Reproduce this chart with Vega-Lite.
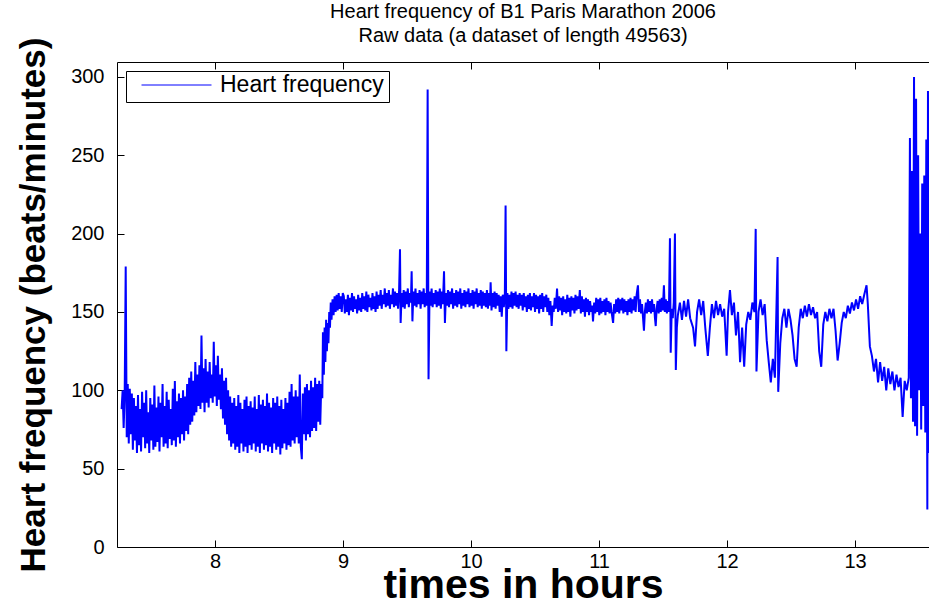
{
"$schema": "https://vega.github.io/schema/vega-lite/v6.json",
"width": 812, "height": 485,
"autosize": {"type": "none"},
"padding": {"left": 117, "top": 62, "right": 0, "bottom": 59},
"background": "white",
"config": {"view": {"stroke": null}, "font": "Liberation Sans"},
"title": {"text": ["Heart frequency of B1 Paris Marathon 2006", "Raw data (a dataset of length 49563)"], "fontSize": 20, "fontWeight": "normal", "font": "Liberation Sans", "color": "black", "anchor": "middle", "offset": -9, "lineHeight": 24},
"data": {"values": [
{"t":7.270,"hr":88},{"t":7.278,"hr":100},{"t":7.286,"hr":76},{"t":7.294,"hr":97},{"t":7.302,"hr":179},{"t":7.310,"hr":70},{"t":7.318,"hr":104},{"t":7.326,"hr":66},{"t":7.334,"hr":101},{"t":7.342,"hr":72},
{"t":7.350,"hr":98},{"t":7.358,"hr":62},{"t":7.366,"hr":95},{"t":7.374,"hr":68},{"t":7.382,"hr":90},{"t":7.390,"hr":60},{"t":7.398,"hr":97},{"t":7.406,"hr":65},{"t":7.414,"hr":88},{"t":7.422,"hr":61},
{"t":7.430,"hr":99},{"t":7.438,"hr":70},{"t":7.446,"hr":92},{"t":7.454,"hr":63},{"t":7.462,"hr":100},{"t":7.470,"hr":66},{"t":7.478,"hr":86},{"t":7.486,"hr":60},{"t":7.494,"hr":95},{"t":7.502,"hr":68},
{"t":7.510,"hr":91},{"t":7.518,"hr":62},{"t":7.526,"hr":103},{"t":7.534,"hr":64},{"t":7.542,"hr":89},{"t":7.550,"hr":67},{"t":7.558,"hr":96},{"t":7.566,"hr":61},{"t":7.574,"hr":92},{"t":7.582,"hr":70},
{"t":7.590,"hr":104},{"t":7.598,"hr":64},{"t":7.606,"hr":90},{"t":7.614,"hr":66},{"t":7.622,"hr":99},{"t":7.630,"hr":63},{"t":7.638,"hr":94},{"t":7.646,"hr":69},{"t":7.654,"hr":88},{"t":7.662,"hr":65},
{"t":7.670,"hr":101},{"t":7.678,"hr":68},{"t":7.686,"hr":106},{"t":7.694,"hr":64},{"t":7.702,"hr":93},{"t":7.710,"hr":70},{"t":7.718,"hr":98},{"t":7.726,"hr":66},{"t":7.734,"hr":95},{"t":7.742,"hr":72},
{"t":7.750,"hr":100},{"t":7.758,"hr":68},{"t":7.766,"hr":96},{"t":7.774,"hr":74},{"t":7.782,"hr":104},{"t":7.790,"hr":72},{"t":7.798,"hr":108},{"t":7.806,"hr":78},{"t":7.814,"hr":112},{"t":7.822,"hr":80},
{"t":7.830,"hr":106},{"t":7.838,"hr":84},{"t":7.846,"hr":118},{"t":7.854,"hr":86},{"t":7.862,"hr":110},{"t":7.870,"hr":90},{"t":7.878,"hr":116},{"t":7.886,"hr":88},{"t":7.894,"hr":135},{"t":7.902,"hr":92},
{"t":7.910,"hr":114},{"t":7.918,"hr":86},{"t":7.926,"hr":120},{"t":7.934,"hr":92},{"t":7.942,"hr":112},{"t":7.950,"hr":89},{"t":7.958,"hr":118},{"t":7.966,"hr":95},{"t":7.974,"hr":110},{"t":7.982,"hr":92},
{"t":7.990,"hr":131},{"t":7.998,"hr":96},{"t":8.006,"hr":116},{"t":8.014,"hr":90},{"t":8.022,"hr":122},{"t":8.030,"hr":94},{"t":8.038,"hr":110},{"t":8.046,"hr":88},{"t":8.054,"hr":114},{"t":8.062,"hr":82},
{"t":8.070,"hr":106},{"t":8.078,"hr":78},{"t":8.086,"hr":108},{"t":8.094,"hr":72},{"t":8.102,"hr":100},{"t":8.110,"hr":68},{"t":8.118,"hr":96},{"t":8.126,"hr":64},{"t":8.134,"hr":92},{"t":8.142,"hr":66},
{"t":8.150,"hr":95},{"t":8.158,"hr":62},{"t":8.166,"hr":90},{"t":8.174,"hr":64},{"t":8.182,"hr":97},{"t":8.190,"hr":60},{"t":8.198,"hr":92},{"t":8.206,"hr":66},{"t":8.214,"hr":88},{"t":8.222,"hr":61},
{"t":8.230,"hr":94},{"t":8.238,"hr":64},{"t":8.246,"hr":96},{"t":8.254,"hr":60},{"t":8.262,"hr":90},{"t":8.270,"hr":65},{"t":8.278,"hr":93},{"t":8.286,"hr":62},{"t":8.294,"hr":89},{"t":8.302,"hr":66},
{"t":8.310,"hr":96},{"t":8.318,"hr":61},{"t":8.326,"hr":88},{"t":8.334,"hr":64},{"t":8.342,"hr":97},{"t":8.350,"hr":60},{"t":8.358,"hr":91},{"t":8.366,"hr":66},{"t":8.374,"hr":94},{"t":8.382,"hr":62},
{"t":8.390,"hr":90},{"t":8.398,"hr":65},{"t":8.406,"hr":98},{"t":8.414,"hr":61},{"t":8.422,"hr":92},{"t":8.430,"hr":64},{"t":8.438,"hr":89},{"t":8.446,"hr":60},{"t":8.454,"hr":95},{"t":8.462,"hr":66},
{"t":8.470,"hr":92},{"t":8.478,"hr":62},{"t":8.486,"hr":96},{"t":8.494,"hr":64},{"t":8.502,"hr":90},{"t":8.510,"hr":59},{"t":8.518,"hr":94},{"t":8.526,"hr":63},{"t":8.534,"hr":88},{"t":8.542,"hr":66},
{"t":8.550,"hr":95},{"t":8.558,"hr":62},{"t":8.566,"hr":92},{"t":8.574,"hr":65},{"t":8.582,"hr":99},{"t":8.590,"hr":64},{"t":8.598,"hr":104},{"t":8.606,"hr":68},{"t":8.614,"hr":96},{"t":8.622,"hr":66},
{"t":8.630,"hr":100},{"t":8.638,"hr":70},{"t":8.646,"hr":96},{"t":8.654,"hr":66},{"t":8.662,"hr":110},{"t":8.670,"hr":64},{"t":8.678,"hr":56},{"t":8.686,"hr":98},{"t":8.694,"hr":72},{"t":8.702,"hr":102},
{"t":8.710,"hr":68},{"t":8.718,"hr":104},{"t":8.726,"hr":72},{"t":8.734,"hr":100},{"t":8.742,"hr":70},{"t":8.750,"hr":106},{"t":8.758,"hr":74},{"t":8.766,"hr":102},{"t":8.774,"hr":76},{"t":8.782,"hr":108},
{"t":8.790,"hr":74},{"t":8.798,"hr":104},{"t":8.806,"hr":80},{"t":8.814,"hr":106},{"t":8.822,"hr":78},{"t":8.830,"hr":104},
{"t":8.838,"hr":95},{"t":8.843,"hr":137},{"t":8.850,"hr":110},{"t":8.856,"hr":140},{"t":8.862,"hr":118},{"t":8.868,"hr":145},{"t":8.874,"hr":125},{"t":8.880,"hr":143},{"t":8.886,"hr":130},{"t":8.892,"hr":150},{"t":8.898,"hr":140},{"t":8.904,"hr":156},{"t":8.910,"hr":145},{"t":8.918,"hr":158},{"t":8.926,"hr":148},{"t":8.934,"hr":160},{"t":8.942,"hr":150},{"t":8.950,"hr":161},{"t":8.958,"hr":151},{"t":8.966,"hr":162},{"t":8.974,"hr":152},{"t":8.982,"hr":160},{"t":8.990,"hr":150},{"t":8.998,"hr":162},
{"t":9.006,"hr":160},{"t":9.014,"hr":149},{"t":9.022,"hr":158},{"t":9.030,"hr":150},{"t":9.038,"hr":161},{"t":9.046,"hr":148},{"t":9.054,"hr":159},{"t":9.062,"hr":151},{"t":9.070,"hr":162},{"t":9.078,"hr":150},
{"t":9.086,"hr":160},{"t":9.094,"hr":152},{"t":9.102,"hr":158},{"t":9.110,"hr":149},{"t":9.118,"hr":161},{"t":9.126,"hr":151},{"t":9.134,"hr":159},{"t":9.142,"hr":150},{"t":9.150,"hr":162},{"t":9.158,"hr":152},
{"t":9.166,"hr":160},{"t":9.174,"hr":151},{"t":9.182,"hr":163},{"t":9.190,"hr":150},{"t":9.198,"hr":161},{"t":9.206,"hr":153},{"t":9.214,"hr":159},{"t":9.222,"hr":151},{"t":9.230,"hr":162},{"t":9.238,"hr":152},
{"t":9.246,"hr":160},{"t":9.254,"hr":150},{"t":9.262,"hr":163},{"t":9.270,"hr":152},{"t":9.278,"hr":161},{"t":9.286,"hr":154},{"t":9.294,"hr":164},{"t":9.302,"hr":152},{"t":9.310,"hr":161},{"t":9.318,"hr":155},
{"t":9.326,"hr":165},{"t":9.334,"hr":153},{"t":9.342,"hr":162},{"t":9.350,"hr":154},{"t":9.358,"hr":164},{"t":9.366,"hr":152},{"t":9.374,"hr":161},{"t":9.382,"hr":155},{"t":9.390,"hr":165},{"t":9.398,"hr":153},
{"t":9.406,"hr":163},{"t":9.414,"hr":154},{"t":9.422,"hr":162},{"t":9.430,"hr":152},{"t":9.438,"hr":164},{"t":9.445,"hr":190},{"t":9.450,"hr":143},{"t":9.458,"hr":162},{"t":9.466,"hr":153},{"t":9.474,"hr":164},
{"t":9.482,"hr":152},{"t":9.490,"hr":163},{"t":9.498,"hr":155},{"t":9.506,"hr":165},{"t":9.514,"hr":153},{"t":9.522,"hr":162},{"t":9.530,"hr":156},{"t":9.536,"hr":176},{"t":9.542,"hr":144},{"t":9.550,"hr":163},
{"t":9.558,"hr":154},{"t":9.566,"hr":165},{"t":9.574,"hr":153},{"t":9.582,"hr":162},{"t":9.590,"hr":155},{"t":9.598,"hr":164},{"t":9.606,"hr":152},{"t":9.614,"hr":163},{"t":9.622,"hr":155},{"t":9.630,"hr":165},
{"t":9.638,"hr":153},{"t":9.646,"hr":162},{"t":9.654,"hr":154},{"t":9.661,"hr":292},{"t":9.668,"hr":107},{"t":9.676,"hr":163},{"t":9.684,"hr":154},{"t":9.692,"hr":165},{"t":9.700,"hr":153},{"t":9.708,"hr":162},
{"t":9.716,"hr":155},{"t":9.724,"hr":164},{"t":9.732,"hr":153},{"t":9.740,"hr":163},{"t":9.748,"hr":154},{"t":9.756,"hr":165},{"t":9.764,"hr":152},{"t":9.772,"hr":163},{"t":9.780,"hr":155},{"t":9.789,"hr":176},
{"t":9.796,"hr":143},{"t":9.804,"hr":162},{"t":9.812,"hr":154},{"t":9.820,"hr":164},{"t":9.828,"hr":153},{"t":9.836,"hr":163},{"t":9.844,"hr":155},{"t":9.852,"hr":165},{"t":9.860,"hr":152},{"t":9.868,"hr":162},
{"t":9.876,"hr":154},{"t":9.884,"hr":164},{"t":9.892,"hr":153},{"t":9.900,"hr":163},{"t":9.908,"hr":155},{"t":9.916,"hr":165},{"t":9.924,"hr":152},{"t":9.932,"hr":162},{"t":9.940,"hr":154},{"t":9.948,"hr":164},
{"t":9.956,"hr":153},{"t":9.964,"hr":163},{"t":9.972,"hr":155},{"t":9.980,"hr":165},{"t":9.988,"hr":153},{"t":9.996,"hr":162},{"t":10.004,"hr":154},{"t":10.012,"hr":164},{"t":10.020,"hr":152},{"t":10.028,"hr":163},
{"t":10.036,"hr":155},{"t":10.044,"hr":165},{"t":10.052,"hr":153},{"t":10.060,"hr":162},{"t":10.068,"hr":154},{"t":10.076,"hr":164},{"t":10.084,"hr":152},{"t":10.092,"hr":163},{"t":10.100,"hr":154},{"t":10.108,"hr":162},
{"t":10.116,"hr":153},{"t":10.124,"hr":164},{"t":10.132,"hr":152},{"t":10.140,"hr":162},{"t":10.148,"hr":154},{"t":10.153,"hr":169},{"t":10.160,"hr":151},{"t":10.168,"hr":162},{"t":10.176,"hr":153},{"t":10.184,"hr":163},
{"t":10.192,"hr":152},{"t":10.200,"hr":162},{"t":10.208,"hr":154},{"t":10.216,"hr":161},{"t":10.224,"hr":150},{"t":10.232,"hr":160},{"t":10.240,"hr":147},{"t":10.248,"hr":161},{"t":10.256,"hr":153},{"t":10.264,"hr":160},
{"t":10.270,"hr":218},{"t":10.276,"hr":125},{"t":10.284,"hr":162},{"t":10.292,"hr":152},{"t":10.300,"hr":161},{"t":10.308,"hr":153},{"t":10.316,"hr":163},{"t":10.324,"hr":152},{"t":10.332,"hr":162},{"t":10.340,"hr":154},
{"t":10.348,"hr":163},{"t":10.356,"hr":153},{"t":10.364,"hr":161},{"t":10.372,"hr":152},{"t":10.380,"hr":162},{"t":10.388,"hr":154},{"t":10.396,"hr":161},{"t":10.404,"hr":151},{"t":10.412,"hr":162},{"t":10.420,"hr":153},
{"t":10.428,"hr":160},{"t":10.436,"hr":150},{"t":10.444,"hr":161},{"t":10.452,"hr":152},{"t":10.460,"hr":162},{"t":10.468,"hr":151},{"t":10.476,"hr":160},{"t":10.484,"hr":153},{"t":10.492,"hr":162},{"t":10.500,"hr":150},
{"t":10.508,"hr":161},{"t":10.516,"hr":152},{"t":10.524,"hr":160},{"t":10.532,"hr":149},{"t":10.540,"hr":161},{"t":10.548,"hr":152},{"t":10.556,"hr":162},{"t":10.564,"hr":150},{"t":10.572,"hr":160},{"t":10.580,"hr":153},
{"t":10.588,"hr":161},{"t":10.596,"hr":150},{"t":10.604,"hr":159},{"t":10.612,"hr":148},{"t":10.620,"hr":157},{"t":10.630,"hr":141},{"t":10.638,"hr":154},{"t":10.646,"hr":150},{"t":10.654,"hr":159},{"t":10.662,"hr":152},
{"t":10.672,"hr":165},{"t":10.680,"hr":150},{"t":10.688,"hr":160},{"t":10.696,"hr":151},{"t":10.704,"hr":159},{"t":10.712,"hr":148},{"t":10.720,"hr":160},{"t":10.728,"hr":150},{"t":10.736,"hr":158},{"t":10.744,"hr":149},
{"t":10.752,"hr":161},{"t":10.760,"hr":150},{"t":10.768,"hr":159},{"t":10.776,"hr":147},{"t":10.784,"hr":160},{"t":10.792,"hr":151},{"t":10.800,"hr":159},{"t":10.808,"hr":149},{"t":10.816,"hr":161},{"t":10.824,"hr":151},
{"t":10.832,"hr":160},{"t":10.840,"hr":152},{"t":10.850,"hr":164},{"t":10.858,"hr":149},{"t":10.866,"hr":160},{"t":10.874,"hr":150},{"t":10.882,"hr":158},{"t":10.890,"hr":147},{"t":10.898,"hr":159},{"t":10.906,"hr":150},
{"t":10.914,"hr":158},{"t":10.922,"hr":148},{"t":10.930,"hr":157},{"t":10.938,"hr":150},{"t":10.946,"hr":154},{"t":10.953,"hr":144},{"t":10.962,"hr":156},{"t":10.970,"hr":149},{"t":10.978,"hr":159},{"t":10.986,"hr":150},
{"t":10.994,"hr":158},{"t":11.002,"hr":148},{"t":11.010,"hr":159},{"t":11.018,"hr":149},{"t":11.026,"hr":157},{"t":11.034,"hr":150},{"t":11.042,"hr":158},{"t":11.050,"hr":148},{"t":11.058,"hr":159},{"t":11.066,"hr":150},
{"t":11.074,"hr":157},{"t":11.082,"hr":149},{"t":11.090,"hr":156},{"t":11.098,"hr":150},{"t":11.110,"hr":143},{"t":11.118,"hr":155},{"t":11.126,"hr":149},{"t":11.134,"hr":158},{"t":11.142,"hr":150},{"t":11.150,"hr":159},
{"t":11.158,"hr":149},{"t":11.166,"hr":158},{"t":11.174,"hr":151},{"t":11.182,"hr":159},{"t":11.190,"hr":149},{"t":11.198,"hr":158},{"t":11.206,"hr":150},{"t":11.214,"hr":157},{"t":11.222,"hr":148},{"t":11.230,"hr":158},
{"t":11.238,"hr":150},{"t":11.246,"hr":159},{"t":11.254,"hr":149},{"t":11.262,"hr":158},{"t":11.270,"hr":151},{"t":11.278,"hr":160},{"t":11.286,"hr":150},{"t":11.294,"hr":161},{"t":11.304,"hr":167},{"t":11.312,"hr":150},
{"t":11.320,"hr":158},{"t":11.328,"hr":149},{"t":11.336,"hr":155},{"t":11.344,"hr":146},{"t":11.351,"hr":138},{"t":11.358,"hr":150},{"t":11.366,"hr":156},{"t":11.374,"hr":149},{"t":11.382,"hr":158},{"t":11.390,"hr":150},
{"t":11.398,"hr":157},{"t":11.406,"hr":149},{"t":11.414,"hr":158},{"t":11.422,"hr":150},{"t":11.430,"hr":155},{"t":11.437,"hr":146},{"t":11.443,"hr":141},{"t":11.450,"hr":152},{"t":11.458,"hr":157},{"t":11.466,"hr":149},
{"t":11.474,"hr":158},{"t":11.482,"hr":150},{"t":11.490,"hr":159},{"t":11.498,"hr":151},{"t":11.507,"hr":167},{"t":11.514,"hr":150},{"t":11.522,"hr":158},{"t":11.530,"hr":149},{"t":11.538,"hr":157},{"t":11.546,"hr":150},
{"t":11.554,"hr":197},{"t":11.560,"hr":124},{"t":11.568,"hr":152},{"t":11.576,"hr":146},{"t":11.584,"hr":156},{"t":11.593,"hr":200},{"t":11.600,"hr":113},{"t":11.608,"hr":140},
{"t":11.616,"hr":148},{"t":11.632,"hr":156},{"t":11.648,"hr":145},{"t":11.664,"hr":157},{"t":11.680,"hr":147},{"t":11.696,"hr":158},{"t":11.712,"hr":146},{"t":11.735,"hr":140},{"t":11.750,"hr":128},{"t":11.766,"hr":150},{"t":11.782,"hr":158},{"t":11.798,"hr":148},{"t":11.814,"hr":157},{"t":11.830,"hr":140},{"t":11.850,"hr":122},{"t":11.866,"hr":140},{"t":11.882,"hr":155},{"t":11.898,"hr":146},{"t":11.914,"hr":157},{"t":11.930,"hr":148},{"t":11.946,"hr":155},
{"t":11.962,"hr":147},{"t":11.978,"hr":152},{"t":11.997,"hr":122},{"t":12.008,"hr":150},{"t":12.023,"hr":164},{"t":12.038,"hr":148},{"t":12.054,"hr":156},{"t":12.070,"hr":135},{"t":12.086,"hr":150},{"t":12.102,"hr":118},{"t":12.118,"hr":140},{"t":12.134,"hr":115},{"t":12.150,"hr":142},{"t":12.166,"hr":150},{"t":12.182,"hr":145},{"t":12.198,"hr":156},{"t":12.214,"hr":150},{"t":12.224,"hr":203},{"t":12.230,"hr":112},{"t":12.246,"hr":150},{"t":12.262,"hr":158},{"t":12.278,"hr":148},{"t":12.294,"hr":155},{"t":12.310,"hr":132},{"t":12.326,"hr":118},{"t":12.342,"hr":105},{"t":12.358,"hr":120},{"t":12.374,"hr":108},{"t":12.395,"hr":185},{"t":12.400,"hr":99},{"t":12.416,"hr":130},{"t":12.432,"hr":146},{"t":12.448,"hr":152},{"t":12.464,"hr":140},{"t":12.480,"hr":152},{"t":12.496,"hr":145},{"t":12.512,"hr":135},{"t":12.528,"hr":120},{"t":12.544,"hr":115},{"t":12.560,"hr":140},{"t":12.576,"hr":152},{"t":12.592,"hr":146},{"t":12.608,"hr":154},{"t":12.624,"hr":147},{"t":12.640,"hr":155},{"t":12.656,"hr":148},{"t":12.672,"hr":153},{"t":12.688,"hr":146},{"t":12.704,"hr":150},{"t":12.720,"hr":125},{"t":12.736,"hr":115},{"t":12.752,"hr":142},{"t":12.768,"hr":150},{"t":12.784,"hr":144},{"t":12.800,"hr":152},{"t":12.816,"hr":146},{"t":12.832,"hr":152},{"t":12.848,"hr":138},{"t":12.864,"hr":119},{"t":12.880,"hr":130},{"t":12.896,"hr":143},{"t":12.912,"hr":150},{"t":12.928,"hr":146},{"t":12.944,"hr":154},{"t":12.960,"hr":149},{"t":12.976,"hr":156},{"t":12.992,"hr":151},{"t":13.008,"hr":158},{"t":13.024,"hr":152},{"t":13.040,"hr":160},{"t":13.056,"hr":155},{"t":13.072,"hr":161},{"t":13.090,"hr":167},{"t":13.100,"hr":155},{"t":13.116,"hr":128},{"t":13.132,"hr":122},{"t":13.148,"hr":112},{"t":13.164,"hr":120},{"t":13.180,"hr":105},{"t":13.196,"hr":118},{"t":13.212,"hr":106},{"t":13.228,"hr":115},{"t":13.244,"hr":100},{"t":13.260,"hr":114},{"t":13.276,"hr":104},{"t":13.292,"hr":112},{"t":13.308,"hr":100},{"t":13.324,"hr":110},{"t":13.340,"hr":102},{"t":13.356,"hr":108},{"t":13.372,"hr":83},{"t":13.388,"hr":106},{"t":13.404,"hr":100},{"t":13.420,"hr":108},{"t":13.429,"hr":261},{"t":13.437,"hr":95},{"t":13.445,"hr":240},{"t":13.453,"hr":80},{"t":13.461,"hr":300},{"t":13.469,"hr":77},{"t":13.477,"hr":286},{"t":13.485,"hr":71},{"t":13.493,"hr":250},{"t":13.501,"hr":100},{"t":13.509,"hr":200},{"t":13.517,"hr":75},{"t":13.525,"hr":232},{"t":13.533,"hr":90},{"t":13.541,"hr":237},{"t":13.549,"hr":73},{"t":13.557,"hr":260},{"t":13.565,"hr":24},{"t":13.570,"hr":291},{"t":13.578,"hr":60},{"t":13.586,"hr":273}
]},
"layer": [
 {"mark": {"type": "line", "strokeWidth": 2, "clip": true},
  "encoding": {
   "x": {"field": "t", "type": "quantitative", "scale": {"domain": [7.234, 13.578], "nice": false, "zero": false},
     "axis": {"orient": "bottom", "values": [8,9,10,11,12,13], "grid": false, "tickSize": -7, "tickColor": "black", "domainColor": "black", "labelColor": "black", "labelFontSize": 20, "labelPadding": 11, "labelFont": "Liberation Sans",
       "title": "times in hours", "titleFontSize": 41, "titleFont": "Liberation Sans", "titleFontWeight": "bold", "titleColor": "black", "titleY": 50, "titleBaseline": "alphabetic"}},
   "y": {"field": "hr", "type": "quantitative", "scale": {"domain": [0, 309.5], "nice": false},
     "axis": {"values": [0,50,100,150,200,250,300], "grid": false, "tickSize": -7, "tickColor": "black", "domainColor": "black", "labelColor": "black", "labelFontSize": 20, "labelPadding": 20, "labelFont": "Liberation Sans",
       "title": "Heart frequency (beats/minutes)", "titleFontSize": 35, "titleFont": "Liberation Sans", "titleFontWeight": "bold", "titleColor": "black", "titleX": -84, "titleBaseline": "middle", "titleAngle": -90}},
   "color": {"datum": "Heart frequency", "type": "nominal", "scale": {"range": ["#0000ff"]},
     "legend": {"title": null, "orient": "top-left", "offset": 9, "fillColor": "white", "strokeColor": "black", "padding": 5, "clipHeight": 18, "symbolType": "stroke", "symbolSize": 4900, "symbolStrokeWidth": 1, "symbolOffset": 10, "labelFontSize": 23, "labelLimit": 400, "labelFont": "Liberation Sans", "labelColor": "black", "labelOffset": 8}}
  }},
 {"mark": {"type": "rule", "opacity": 0},
  "encoding": {
   "x": {"field": "t", "type": "quantitative", "scale": {"domain": [7.234, 13.578], "nice": false, "zero": false},
     "axis": {"orient": "top", "values": [8,9,10,11,12,13], "grid": false, "labels": false, "title": null, "tickSize": -7, "tickColor": "black", "domainColor": "black"}}
  }}
],
"resolve": {"axis": {"x": "independent"}}
}
